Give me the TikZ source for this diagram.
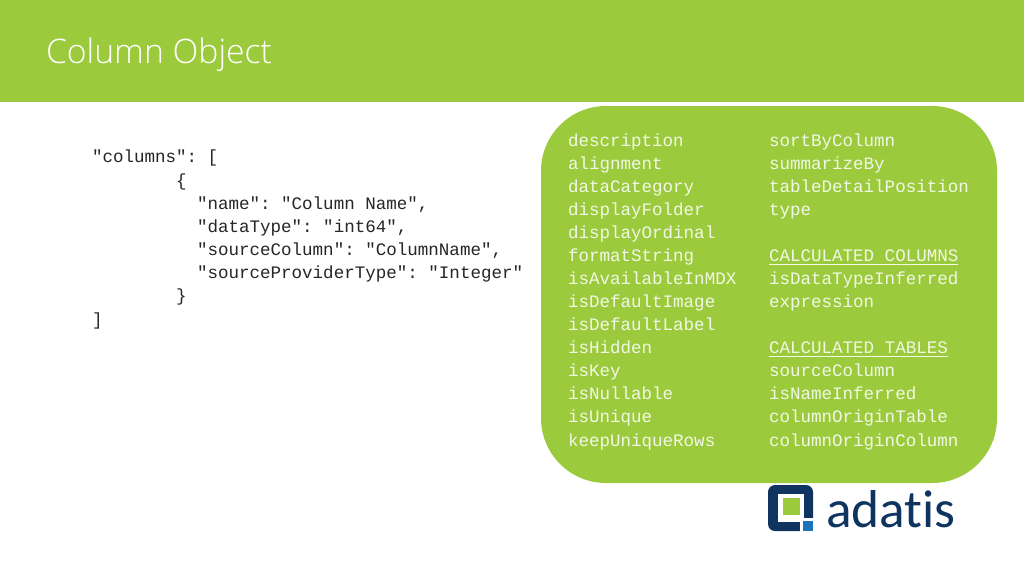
\documentclass[tikz,border=0pt]{standalone}
\usepackage{fontspec}
\setmainfont{Open Sans Light}
\setmonofont{Liberation Mono}
\newfontfamily\logofont[Ligatures=NoCommon]{Carlito}
\definecolor{barg}{HTML}{9BCB3C}
\definecolor{navy}{HTML}{0F3460}
\definecolor{lblue}{HTML}{1B75BB}
\definecolor{inkc}{HTML}{262626}
\definecolor{pale}{HTML}{F2F7E6}
\tikzset{
  every node/.style={inner sep=0pt,outer sep=0pt},
  codeL/.style={anchor=base west,text=inkc,font=\fontsize{13.15}{15}\selectfont\ttfamily},
  codeR/.style={anchor=base west,text=pale,font=\fontsize{13.15}{15}\selectfont\ttfamily},
  uline/.style={draw=pale,line width=0.7pt}
}
\begin{document}
\begin{tikzpicture}[x=0.75pt,y=-0.75pt]
\useasboundingbox (0,0) rectangle (1024,576);
\fill[white] (0,0) rectangle (1024,576);
\fill[barg] (0,0) rectangle (1024,102);
\node[anchor=base west,text=white,font=\fontsize{25.3}{28}\selectfont] (title) at (46,63) {Column Object};
% left code
\node[codeL] (l1) at (92,162) {"columns": [};
\node[codeL] (l2) at (176,186) {\{};
\node[codeL] (l3) at (197,209) {"name": "Column Name",};
\node[codeL] (l4) at (197,232) {"dataType": "int64",};
\node[codeL] (l5) at (197,255) {"sourceColumn": "ColumnName",};
\node[codeL] (l6) at (197,278) {"sourceProviderType": "Integer"};
\node[codeL] (l7) at (176,301) {\}};
\node[codeL] (l8) at (92,325) {]};
% panel
\fill[barg,rounded corners=65*0.75pt] (541,106) rectangle (997,483);
\foreach \t [count=\i from 0] in {description,alignment,dataCategory,displayFolder,displayOrdinal,formatString,isAvailableInMDX,isDefaultImage,isDefaultLabel,isHidden,isKey,isNullable,isUnique,keepUniqueRows}
  \node[codeR] (a\i) at (568,{146+23.08*\i}) {\t};
\foreach \t/\i in {sortByColumn/0,summarizeBy/1,tableDetailPosition/2,type/3,CALCULATED COLUMNS/5,isDataTypeInferred/6,expression/7,CALCULATED TABLES/9,sourceColumn/10,isNameInferred/11,columnOriginTable/12,columnOriginColumn/13}
  \node[codeR] (b\i) at (769,{146+23.08*\i}) {\t};
\draw[uline] ([yshift=-2.2pt]b5.base west) -- ([yshift=-2.2pt]b5.base east);
\draw[uline] ([yshift=-2.2pt]b9.base west) -- ([yshift=-2.2pt]b9.base east);
% logo
\fill[navy,rounded corners=7*0.75pt] (768,485) rectangle (813,531);
\fill[white] (778,494) rectangle (804,522);
\fill[barg] (783,498) rectangle (800,515);
\fill[white] (800,518) rectangle (815,533);
\fill[lblue] (803,521) rectangle (813,531);
\node[anchor=base west,text=navy,font=\fontsize{40}{44}\selectfont\logofont] (logo) at (826,527) {adatis};
\end{tikzpicture}
\end{document}
